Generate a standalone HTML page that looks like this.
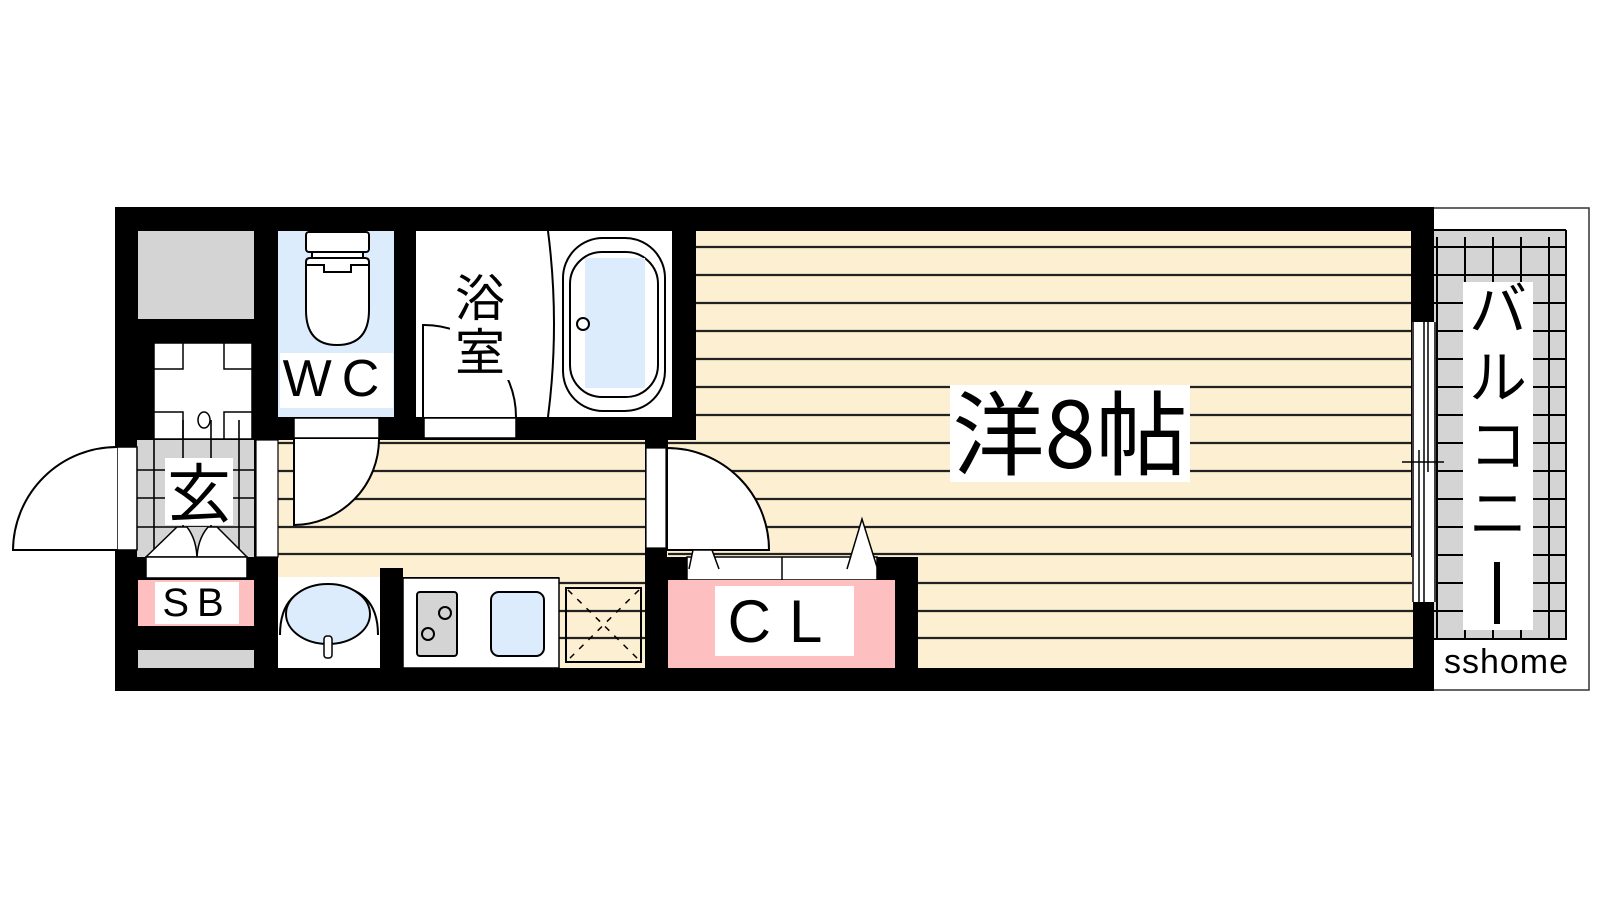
<!DOCTYPE html>
<html><head><meta charset="utf-8"><style>
html,body{margin:0;padding:0;background:#fff;width:1600px;height:900px;overflow:hidden}
svg{display:block}
text{font-family:"Liberation Sans","Noto Sans CJK JP",sans-serif}
.j{font-family:"Noto Sans CJK JP","Liberation Sans",sans-serif}
</style></head><body>
<svg width="1600" height="900" viewBox="0 0 1600 900" xmlns="http://www.w3.org/2000/svg">
<defs>
<clipPath id="yc">
<rect x="696" y="231" width="715" height="437"/>
<rect x="278" y="440" width="367" height="137"/>
<rect x="559" y="577" width="86" height="91"/>
<rect x="668" y="440" width="30" height="117"/>
<rect x="918" y="557" width="495" height="111"/>
</clipPath>
</defs>
<!-- balcony -->
<rect x="1433" y="208" width="156" height="482" fill="#fff" stroke="#333" stroke-width="1.5"/>
<rect x="1433" y="230" width="133" height="410" fill="#d4d4d4"/>
<g stroke="#000" stroke-width="2">
<line x1="1433" y1="230" x2="1566" y2="230"/>
<line x1="1566" y1="230" x2="1566" y2="640"/>
<line x1="1437" y1="237" x2="1437" y2="640"/>
<line x1="1465" y1="237" x2="1465" y2="640"/>
<line x1="1493" y1="237" x2="1493" y2="640"/>
<line x1="1521" y1="237" x2="1521" y2="640"/>
<line x1="1549" y1="237" x2="1549" y2="640"/>
<line x1="1433" y1="247" x2="1566" y2="247"/><line x1="1433" y1="275" x2="1566" y2="275"/>
<line x1="1433" y1="303" x2="1566" y2="303"/><line x1="1433" y1="331" x2="1566" y2="331"/>
<line x1="1433" y1="359" x2="1566" y2="359"/><line x1="1433" y1="387" x2="1566" y2="387"/>
<line x1="1433" y1="415" x2="1566" y2="415"/><line x1="1433" y1="443" x2="1566" y2="443"/>
<line x1="1433" y1="471" x2="1566" y2="471"/><line x1="1433" y1="499" x2="1566" y2="499"/>
<line x1="1433" y1="527" x2="1566" y2="527"/><line x1="1433" y1="555" x2="1566" y2="555"/>
<line x1="1433" y1="583" x2="1566" y2="583"/><line x1="1433" y1="611" x2="1566" y2="611"/>
<line x1="1433" y1="639" x2="1566" y2="639"/>
</g>
<rect x="1463" y="282" width="70" height="348" fill="#fff"/>
<text class="j" x="1498" y="330" font-size="58" text-anchor="middle">バ</text>
<text class="j" x="1498" y="398" font-size="58" text-anchor="middle">ル</text>
<text class="j" x="1498" y="466" font-size="58" text-anchor="middle">コ</text>
<text class="j" x="1498" y="534" font-size="58" text-anchor="middle">ニ</text>
<rect x="1494" y="562" width="6" height="62" fill="#000"/>
<rect x="1440" y="642" width="130" height="40" fill="#fff"/>
<text x="1444" y="673" font-size="34" textLength="124">sshome</text>

<!-- outer walls -->
<rect x="115" y="207" width="1319" height="484" fill="#000"/>
<!-- yellow floors -->
<rect x="696" y="231" width="715" height="437" fill="#fdf0d2"/>
<rect x="278" y="440" width="367" height="137" fill="#fdf0d2"/>
<rect x="559" y="577" width="86" height="91" fill="#fdf0d2"/>
<rect x="668" y="440" width="30" height="117" fill="#fdf0d2"/>
<rect x="918" y="557" width="495" height="111" fill="#fdf0d2"/>
<rect x="667" y="548" width="20" height="9" fill="#fdf0d2"/>
<g clip-path="url(#yc)" stroke="#222" stroke-width="2.2">
<line x1="270" y1="247" x2="1420" y2="247"/><line x1="270" y1="275" x2="1420" y2="275"/>
<line x1="270" y1="303" x2="1420" y2="303"/><line x1="270" y1="331" x2="1420" y2="331"/>
<line x1="270" y1="359" x2="1420" y2="359"/><line x1="270" y1="387" x2="1420" y2="387"/>
<line x1="270" y1="415" x2="1420" y2="415"/><line x1="270" y1="443" x2="1420" y2="443"/>
<line x1="270" y1="471" x2="1420" y2="471"/><line x1="270" y1="499" x2="1420" y2="499"/>
<line x1="270" y1="527" x2="1420" y2="527"/><line x1="270" y1="554" x2="1420" y2="554"/>
<line x1="270" y1="583" x2="1420" y2="583"/><line x1="270" y1="611" x2="1420" y2="611"/>
<line x1="270" y1="638" x2="1420" y2="638"/>
</g>
<!-- window balcony -->
<rect x="1412" y="322" width="24" height="280" fill="#fff"/>
<g stroke="#000" stroke-width="1.5">
<line x1="1413" y1="322" x2="1413" y2="602"/><line x1="1424" y1="322" x2="1424" y2="602"/>
<line x1="1428" y1="322" x2="1428" y2="472"/><line x1="1419" y1="450" x2="1419" y2="602"/>
<line x1="1435" y1="322" x2="1435" y2="602"/><line x1="1402" y1="462" x2="1444" y2="462"/>
</g>

<!-- top-left gray -->
<rect x="138" y="231" width="116" height="88" fill="#d4d4d4"/>
<!-- small room -->
<rect x="154" y="343" width="98" height="96" fill="#fff"/>
<g fill="none" stroke="#000" stroke-width="1.5">
<rect x="154" y="343" width="98" height="96"/>
<path d="M183 343V369H154M224 343V369H252M183 439V412H154M224 439V412H252"/>
<ellipse cx="204" cy="420" rx="6" ry="8"/>
</g>
<!-- genkan tiles -->
<rect x="137" y="440" width="117" height="117" fill="#d4d4d4"/>
<g stroke="#000" stroke-width="1.6">
<line x1="154" y1="440" x2="154" y2="557"/><line x1="183" y1="420" x2="183" y2="557"/>
<line x1="211" y1="420" x2="211" y2="557"/><line x1="239" y1="420" x2="239" y2="557"/>
<line x1="137" y1="470" x2="254" y2="470"/><line x1="137" y1="498" x2="254" y2="498"/>
<line x1="137" y1="527" x2="254" y2="527"/>
</g>
<rect x="165" y="458" width="68" height="67" fill="#fff"/>
<text class="j" x="199" y="517" font-size="64" text-anchor="middle">玄</text>
<path d="M146 557L177 527H217L247 557Z" fill="#fff" stroke="#000" stroke-width="1.5"/>
<path d="M187 527Q197 540 197 560Q197 540 208 527" fill="#d4d4d4" stroke="#000" stroke-width="1.5"/>
<rect x="146" y="557" width="101" height="21" fill="#fff" stroke="#000" stroke-width="1.5"/>
<!-- entry door -->
<rect x="117" y="447" width="20" height="103" fill="#fff" stroke="#000" stroke-width="1.5"/>
<path d="M117 447A104 104 0 0 0 13 550H117" fill="#fff" stroke="#000" stroke-width="2"/>
<!-- genkan/corridor opening -->
<rect x="256" y="440" width="22" height="117" fill="#fff" stroke="#000" stroke-width="1.2"/>
<!-- SB -->
<rect x="138" y="580" width="116" height="46" fill="#fdbfbf"/>
<rect x="155" y="582" width="84" height="42" fill="#fff"/>
<text x="197" y="616" font-size="40" text-anchor="middle" letter-spacing="8">SB</text>
<rect x="138" y="650" width="116" height="18" fill="#d4d4d4"/>

<!-- WC -->
<rect x="278" y="231" width="116" height="186" fill="#dcecfc"/>
<g fill="#fff" stroke="#000" stroke-width="2">
<rect x="306" y="232" width="63" height="20" rx="3"/>
<path d="M312 252H363V258H312Z"/>
<path d="M306 262Q306 258 310 258H365Q369 258 369 262V310Q369 345 337 345Q306 345 306 310Z"/>
<path d="M306 265H324V272H351V265H369" fill="none"/>
</g>
<rect x="280" y="353" width="113" height="55" fill="#fff"/>
<text x="336" y="396" font-size="52" text-anchor="middle" letter-spacing="10">WC</text>
<rect x="294" y="418" width="85" height="20" fill="#fff" stroke="#000" stroke-width="1.5"/>
<path d="M379 439A86 86 0 0 1 294 525V439" fill="#fff" stroke="#000" stroke-width="2"/>

<!-- bath -->
<rect x="416" y="231" width="256" height="186" fill="#fff"/>
<path d="M548 231Q560 324 548 417" fill="none" stroke="#000" stroke-width="2"/>
<rect x="563" y="238" width="102" height="173" rx="40" fill="#fff" stroke="#000" stroke-width="2"/>
<rect x="570" y="252" width="88" height="145" rx="32" fill="#fff" stroke="#000" stroke-width="2"/>
<rect x="585" y="258" width="60" height="130" fill="#dcecfc"/>
<ellipse cx="583" cy="324" rx="6" ry="6" fill="#fff" stroke="#000" stroke-width="2"/>
<path d="M423 417V325A92 92 0 0 1 516 417" fill="none" stroke="#000" stroke-width="2"/>
<rect x="450" y="262" width="60" height="118" fill="#fff"/>
<text class="j" x="480" y="316" font-size="50" text-anchor="middle">浴</text>
<text class="j" x="480" y="370" font-size="50" text-anchor="middle">室</text>
<rect x="424" y="418" width="92" height="20" fill="#fff" stroke="#000" stroke-width="1.5"/>

<!-- washbasin -->
<rect x="278" y="577" width="102" height="91" fill="#fff"/>
<path d="M280 635Q280 586 328 586Q378 586 378 635" fill="none" stroke="#000" stroke-width="2"/>
<ellipse cx="328" cy="614" rx="42" ry="30" fill="#dcecfc" stroke="#000" stroke-width="2"/>
<rect x="324" y="636" width="8" height="22" rx="3" fill="#fff" stroke="#000" stroke-width="1.5"/>
<rect x="380" y="568" width="23" height="100" fill="#000"/>
<!-- counter -->
<rect x="403" y="578" width="156" height="90" fill="#fff" stroke="#000" stroke-width="1.5"/>
<rect x="417" y="592" width="40" height="64" rx="3" fill="#d4d4d4" stroke="#000" stroke-width="2"/>
<circle cx="445" cy="613" r="6" fill="none" stroke="#000" stroke-width="2"/>
<circle cx="428" cy="634" r="6" fill="none" stroke="#000" stroke-width="2"/>
<rect x="491" y="592" width="53" height="64" rx="8" fill="#dcecfc" stroke="#000" stroke-width="2"/>
<rect x="566" y="588" width="75" height="74" fill="none" stroke="#000" stroke-width="2"/>
<path d="M568 590L639 660M639 590L568 660" stroke="#000" stroke-width="1.5" stroke-dasharray="6 7"/>

<!-- door to main room -->
<rect x="646" y="448" width="20" height="100" fill="#fff" stroke="#000" stroke-width="1.2"/>
<path d="M667 448A102 102 0 0 1 769 550H667Z" fill="#fff" stroke="#000" stroke-width="2"/>
<!-- CL -->
<rect x="668" y="557" width="250" height="23" fill="#000"/>
<rect x="687" y="557" width="190" height="23" fill="#fff" stroke="#000" stroke-width="1.5"/>
<line x1="782" y1="557" x2="782" y2="580" stroke="#000" stroke-width="1.5"/>
<path d="M689 569L693 550H712L719 569" fill="#fff" stroke="#000" stroke-width="1.5"/>
<path d="M847 569L862 519L877 567" fill="#fff" stroke="#000" stroke-width="1.5"/>
<rect x="668" y="580" width="227" height="88" fill="#fdbfbf"/>
<rect x="715" y="586" width="139" height="70" fill="#fff"/>
<text x="784" y="642" font-size="60" text-anchor="middle" letter-spacing="18">CL</text>
<rect x="895" y="557" width="23" height="111" fill="#000"/>

<!-- main label -->
<rect x="950" y="385" width="240" height="97" fill="#fff"/>
<text class="j" x="1070" y="468" font-size="92" text-anchor="middle">洋8帖</text>
</svg>
</body></html>
